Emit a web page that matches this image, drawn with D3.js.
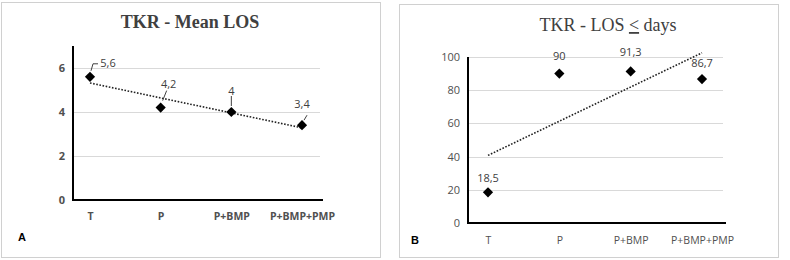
<!DOCTYPE html>
<html>
<head>
<meta charset="utf-8">
<script src="https://cdn.jsdelivr.net/npm/d3@7"></script>
<style>
  body { margin: 0; background: #fff; }
  svg { display: block; }
</style>
</head>
<body>
<svg id="chart" width="790" height="260"></svg>
<script>
const categories = ["T", "P", "P+BMP", "P+BMP+PMP"];
const meanLos = [5.6, 4.2, 4, 3.4];
const meanLosLabels = ["5,6", "4,2", "4", "3,4"];
const meanLosTicks = [0, 2, 4, 6];
const losDays = [18.5, 90, 91.3, 86.7];
const losDaysLabels = ["18,5", "90", "91,3", "86,7"];
const losDaysTicks = [0, 20, 40, 60, 80, 100];

const svg = d3.select("#chart");
const textColor = "#404040";

// least squares line through the points (index 1..n)
function trend(values) {
  const n = values.length;
  const xs = values.map((d, i) => i + 1);
  const mx = d3.mean(xs), my = d3.mean(values);
  const slope = d3.sum(xs, (x, i) => (x - mx) * (values[i] - my)) /
    d3.sum(xs, x => (x - mx) * (x - mx));
  return [my + slope * (1 - mx), my + slope * (n - mx)];
}

function drawPanel(p) {
  const g = svg.append("g");

  // panel border
  g.append("rect")
    .attr("x", p.box[0] + 0.5).attr("y", p.box[1] + 0.5)
    .attr("width", p.box[2]).attr("height", p.box[3])
    .attr("fill", "none").attr("stroke", "#d0d0d0");

  const x = d3.scalePoint().domain(categories).range(p.xRange);
  const y = d3.scaleLinear().domain(p.yDomain).range(p.yRange);

  // gridlines
  g.selectAll(".grid")
    .data(p.ticks.filter(t => t > 0))
    .enter().append("line")
    .attr("x1", p.axisX[0]).attr("x2", p.axisX[1] - 3)
    .attr("y1", d => Math.round(y(d)) + 0.5).attr("y2", d => Math.round(y(d)) + 0.5)
    .attr("stroke", "#d9d9d9");

  // y tick labels
  const yAxis = g.append("g")
    .attr("transform", `translate(${p.axisX[0] - 8},0)`)
    .call(d3.axisLeft(y).tickValues(p.ticks).tickFormat(d3.format("d")).tickSize(0).tickPadding(0));
  yAxis.select(".domain").remove();
  yAxis.selectAll("text")
    .attr("fill", "#505050")
    .style("font-family", "'Open Sans', sans-serif")
    .style("font-size", "11px")
    .style("font-weight", p.labelWeight);

  // x tick labels
  const xAxis = g.append("g")
    .attr("transform", `translate(0,${p.xLabelY})`)
    .call(d3.axisBottom(x).tickSize(0).tickPadding(0));
  xAxis.select(".domain").remove();
  xAxis.selectAll("text")
    .attr("fill", "#505050")
    .attr("dy", "0.35em")
    .style("font-family", "'Open Sans', sans-serif")
    .style("font-size", "10.5px")
    .style("font-weight", p.labelWeight);

  // axis lines
  g.append("line")
    .attr("x1", p.axisX[0]).attr("x2", p.axisX[0])
    .attr("y1", y(p.yDomain[1])).attr("y2", y(0) + 1)
    .attr("stroke", "#000").attr("stroke-width", 2);
  g.append("line")
    .attr("x1", p.axisX[0] - 1).attr("x2", p.axisX[1])
    .attr("y1", y(0)).attr("y2", y(0))
    .attr("stroke", "#000").attr("stroke-width", 2);

  // trendline
  const t = trend(p.values);
  g.append("line")
    .attr("x1", x(categories[0])).attr("y1", y(t[0]))
    .attr("x2", x(categories[categories.length - 1])).attr("y2", y(t[1]))
    .attr("stroke", "#222").attr("stroke-width", 1.6)
    .attr("stroke-dasharray", "1.6,1.6");

  // markers
  g.selectAll(".pt")
    .data(p.values)
    .enter().append("path")
    .attr("d", d3.symbol(d3.symbolSquare, 52))
    .attr("transform", (d, i) => `translate(${x(categories[i])},${y(d)}) rotate(45)`)
    .attr("fill", "#000");

  // data labels
  g.selectAll(".lbl")
    .data(p.values)
    .enter().append("text")
    .attr("x", (d, i) => x(categories[i]) + p.labelOff[i][0])
    .attr("y", (d, i) => y(d) + p.labelOff[i][1])
    .attr("text-anchor", "middle")
    .attr("dy", "0.35em")
    .attr("fill", textColor)
    .style("font-family", "'Open Sans', sans-serif")
    .style("font-size", "11px")
    .text((d, i) => p.labels[i]);

  // leader lines
  if (p.leaders) {
    g.selectAll(".leader")
      .data(p.values)
      .enter().append("path")
      .attr("d", (d, i) => {
        const cx = x(categories[i]), cy = y(d);
        return "M" + p.leaders[i].map(q => [cx + q[0], cy + q[1]].join(",")).join("L");
      })
      .attr("fill", "none").attr("stroke", "#404040").attr("stroke-width", 1);
  }

  // title
  const title = g.append("text")
    .attr("x", p.titleX).attr("y", p.titleY)
    .attr("text-anchor", "middle")
    .attr("fill", textColor)
    .style("font-family", "'Liberation Serif', serif")
    .style("font-size", "18px")
    .style("font-weight", p.titleBold ? "bold" : "normal");
  title.selectAll("tspan")
    .data(p.title)
    .enter().append("tspan")
    .style("text-decoration", d => d.underline ? "underline" : "none")
    .text(d => d.text);

  // panel letter
  g.append("text")
    .attr("x", p.letter[0]).attr("y", p.letter[1])
    .attr("dy", "0.35em")
    .attr("fill", "#000")
    .style("font-family", "'Liberation Sans', sans-serif")
    .style("font-size", "11px")
    .style("font-weight", "bold")
    .text(p.letterText);
}

drawPanel({
  box: [1, 2, 379, 255],
  xRange: [90, 302],
  yDomain: [0, 7],
  yRange: [200, 46],
  axisX: [73, 323],
  ticks: meanLosTicks,
  values: meanLos,
  labels: meanLosLabels,
  labelWeight: "bold",
  labelOff: [[18, -14], [8, -23], [0, -21], [0, -21]],
  leaders: [[[1, -6], [3, -13], [8, -13]], [[2, -7], [6, -17]], [[0, -6], [0, -16]], [[2, -5], [5, -10]]],
  xLabelY: 216,
  titleX: 190, titleY: 28, titleBold: true,
  title: [{ text: "TKR - Mean LOS" }],
  letter: [18, 237], letterText: "A"
});

drawPanel({
  box: [399, 4, 379, 253],
  xRange: [488, 702],
  yDomain: [0, 100],
  yRange: [223, 57],
  axisX: [468, 726],
  ticks: losDaysTicks,
  values: losDays,
  labels: losDaysLabels,
  labelWeight: "normal",
  labelOff: [[0, -14], [0, -17], [0, -19], [0, -16]],
  leaders: null,
  xLabelY: 240,
  titleX: 608, titleY: 31, titleBold: false,
  title: [{ text: "TKR - LOS " }, { text: "<", underline: true }, { text: " days" }],
  letter: [411, 240], letterText: "B"
});
</script>
</body>
</html>
